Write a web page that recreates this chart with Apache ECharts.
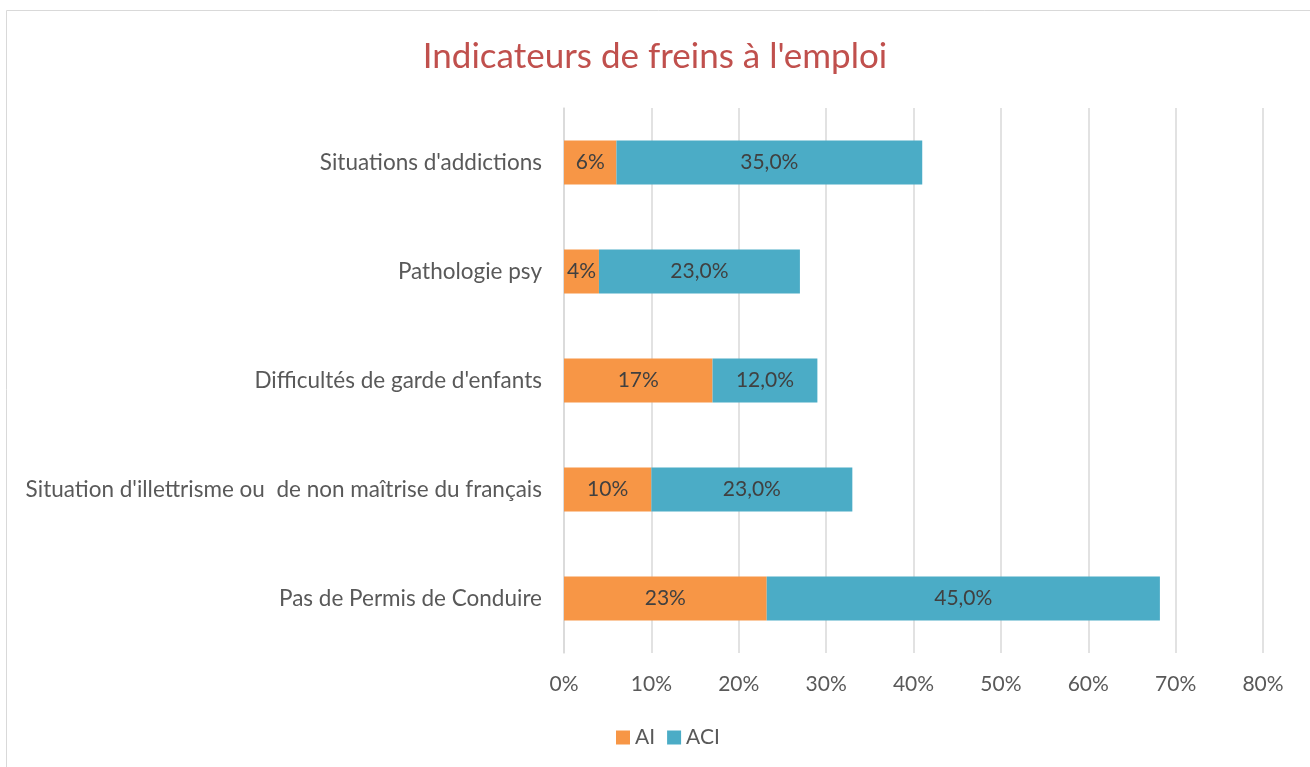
<!DOCTYPE html>
<html>
<head>
<meta charset="utf-8">
<script src="https://cdn.jsdelivr.net/npm/echarts@6/dist/echarts.min.js"></script>
<style>
  html, body { margin: 0; padding: 0; background: #fff; }
  #chart { width: 1310px; height: 767px; }
</style>
</head>
<body>
<div id="chart"></div>
<script>
// chart data
const categories = [
  "Situations d'addictions",
  'Pathologie psy',
  "Difficultés de garde d'enfants",
  "Situation d'illettrisme ou  de non maîtrise du français",
  'Pas de Permis de Conduire'
];
const aiValues = [6, 4, 17, 10, 23.2];
const aciValues = [35, 23, 12, 23, 45];
const xTicks = [0, 10, 20, 30, 40, 50, 60, 70, 80];

const font = 'Lato, "Open Sans", sans-serif';
const chart = echarts.init(document.getElementById('chart'));

const options = {
  animation: false,
  title: {
    text: "Indicateurs de freins à l'emploi",
    left: 'center',
    top: 34,
    textStyle: {
      color: '#C0504D',
      fontFamily: font,
      fontSize: 35,
      fontWeight: 'normal'
    }
  },
  graphic: [{
    type: 'rect',
    shape: { x: 6.5, y: 10.5, width: 1400, height: 900 },
    style: { fill: 'none', stroke: '#d9d9d9', lineWidth: 1 },
    silent: true
  }],
  legend: {
    data: ['AI', 'ACI'],
    left: 611,
    top: 722,
    icon: 'rect',
    itemWidth: 14,
    itemHeight: 14,
    itemGap: 12,
    itemStyle: { borderWidth: 0 },
    textStyle: { color: '#595959', fontFamily: font, fontSize: 21 }
  },
  grid: {
    left: 564,
    right: 47,
    top: 108,
    bottom: 114,
    containLabel: false
  },
  xAxis: {
    type: 'value',
    min: 0,
    max: 80,
    interval: 10,
    axisLine: { show: false },
    axisTick: { show: false },
    splitLine: { lineStyle: { color: '#d9d9d9', width: 1.5 } },
    axisLabel: {
      color: '#595959',
      fontFamily: font,
      fontSize: 21,
      margin: 21,
      formatter: v => (xTicks.indexOf(v) >= 0 ? v + '%' : '')
    }
  },
  yAxis: {
    type: 'category',
    data: categories,
    inverse: true,
    axisLine: { show: true, lineStyle: { color: '#d9d9d9', width: 1.5 } },
    axisTick: { show: false },
    axisLabel: {
      color: '#595959',
      fontFamily: font,
      fontSize: 22.5,
      margin: 22
    }
  },
  series: [
    {
      name: 'AI',
      type: 'bar',
      stack: 'total',
      barWidth: 44,
      data: aiValues,
      itemStyle: { color: '#F79646' },
      label: {
        show: true,
        position: 'inside',
        color: '#404040',
        fontFamily: font,
        fontSize: 21,
        formatter: p => Math.round(p.value) + '%'
      }
    },
    {
      name: 'ACI',
      type: 'bar',
      stack: 'total',
      barWidth: 44,
      data: aciValues,
      itemStyle: { color: '#4BACC6' },
      label: {
        show: true,
        position: 'inside',
        color: '#404040',
        fontFamily: font,
        fontSize: 21,
        formatter: p => p.value.toFixed(1).replace('.', ',') + '%'
      }
    }
  ]
};

chart.setOption(options);
</script>
</body>
</html>
